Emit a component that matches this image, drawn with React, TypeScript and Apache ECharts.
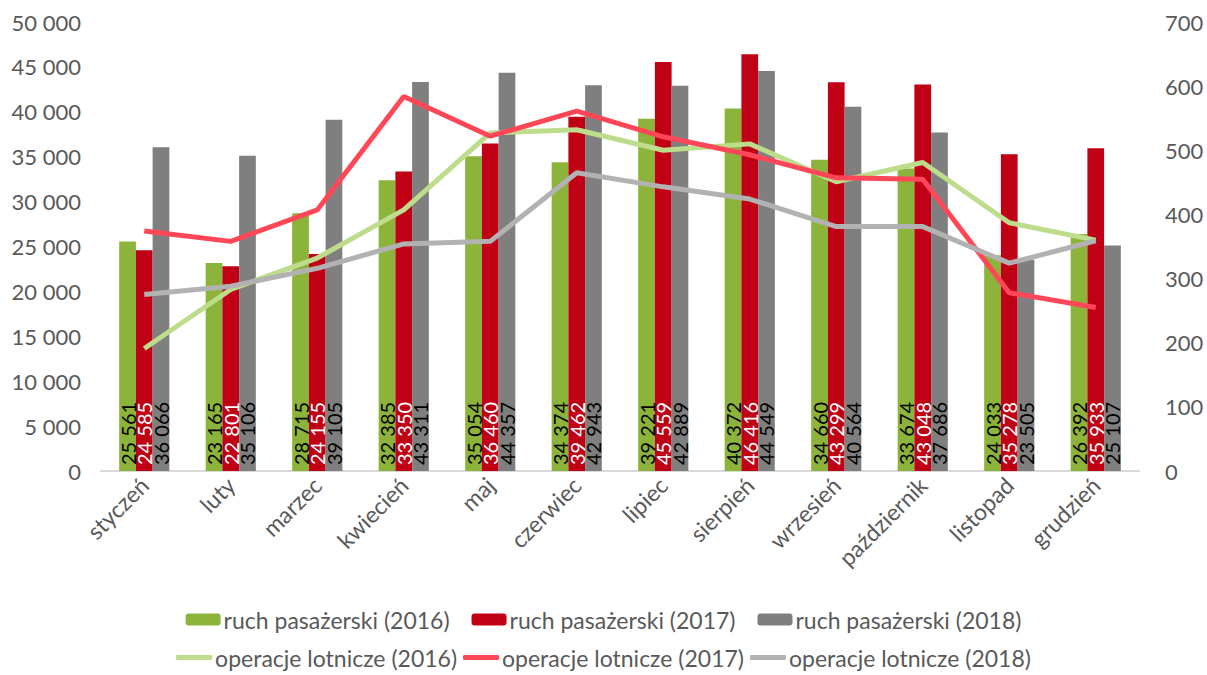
import React, { useEffect, useRef } from "react";
import * as echarts from "echarts";

const months = ["styczeń", "luty", "marzec", "kwiecień", "maj", "czerwiec", "lipiec", "sierpień", "wrzesień", "październik", "listopad", "grudzień"];
const pax2016 = [25561, 23165, 28715, 32385, 35054, 34374, 39221, 40372, 34660, 33674, 24033, 26392];
const pax2017 = [24585, 22801, 24155, 33350, 36460, 39462, 45559, 46416, 43299, 43048, 35278, 35933];
const pax2018 = [36066, 35106, 39105, 43311, 44357, 42943, 42889, 44549, 40564, 37686, 23505, 25107];
const ops2016 = [191, 283, 332, 407, 527, 532, 500, 510, 451, 481, 387, 360];
const ops2017 = [374, 358, 407, 584, 522, 561, 521, 493, 457, 455, 278, 255];
const ops2018 = [275, 288, 316, 354, 358, 465, 443, 424, 381, 381, 324, 359];

const fmt = (v: number) => String(v).replace(/\B(?=(\d{3})+(?!\d))/g, " ");
const FONT = "Lato";

export default function App() {
  const ref = useRef<HTMLDivElement>(null);
  useEffect(() => {
    const chart = echarts.init(ref.current!, undefined, { renderer: "svg" });
    const barLabel = (color: string) => ({
      show: true,
      position: "insideBottom",
      rotate: 90,
      align: "left",
      verticalAlign: "middle",
      distance: 6,
      color,
      fontSize: 20,
      fontFamily: FONT,
      formatter: (p: any) => fmt(p.value),
    });
    const bar = (name: string, data: number[], color: string, lblColor: string) => ({
      name,
      type: "bar",
      data,
      yAxisIndex: 0,
      barGap: "0%",
      barCategoryGap: "42%",
      itemStyle: { color },
      label: barLabel(lblColor),
    });
    const line = (name: string, data: number[], color: string) => ({
      name,
      type: "line",
      data,
      yAxisIndex: 1,
      symbol: "none",
      lineStyle: { color, width: 5 },
      itemStyle: { color },
    });
    chart.setOption({
      animation: false,
      textStyle: { fontFamily: FONT },
      grid: { left: 101, right: 68, top: 22, bottom: 204 },
      legend: [
        {
          data: ["ruch pasażerski (2016)", "ruch pasażerski (2017)", "ruch pasażerski (2018)"],
          top: 603,
          left: "center",
          itemWidth: 35,
          itemHeight: 12,
          itemGap: 22,
          textStyle: { fontSize: 23, color: "#595959", fontFamily: FONT, padding: [0, 0, 0, -2] },
        },
        {
          data: [
            { name: "operacje lotnicze (2016)", icon: "roundRect" },
            { name: "operacje lotnicze (2017)", icon: "roundRect" },
            { name: "operacje lotnicze (2018)", icon: "roundRect" },
          ],
          top: 641,
          left: "center",
          itemWidth: 36,
          itemHeight: 5,
          itemGap: 6,
          textStyle: { fontSize: 23, color: "#595959", fontFamily: FONT, padding: [0, 0, 0, -2] },
        },
      ],
      xAxis: {
        type: "category",
        data: months,
        axisLine: { lineStyle: { color: "#d9d9d9", width: 2 } },
        axisTick: { show: false },
        axisLabel: { rotate: 45, fontSize: 23, color: "#595959", fontFamily: FONT, margin: 10, interval: 0 },
      },
      yAxis: [
        {
          type: "value",
          min: 0,
          max: 50000,
          interval: 5000,
          splitLine: { show: false },
          axisLine: { show: false },
          axisTick: { show: false },
          axisLabel: { fontSize: 22, color: "#595959", fontFamily: FONT, margin: 20, formatter: (v: number) => fmt(v) },
        },
        {
          type: "value",
          min: 0,
          max: 700,
          interval: 100,
          splitLine: { show: false },
          axisLine: { show: false },
          axisTick: { show: false },
          axisLabel: { fontSize: 22, color: "#595959", fontFamily: FONT, margin: 26 },
        },
      ],
      series: [
        bar("ruch pasażerski (2016)", pax2016, "#8cb43a", "#000000"),
        bar("ruch pasażerski (2017)", pax2017, "#c00015", "#ffffff"),
        bar("ruch pasażerski (2018)", pax2018, "#7f7f7f", "#000000"),
        line("operacje lotnicze (2016)", ops2016, "#bddc8c"),
        line("operacje lotnicze (2017)", ops2017, "#ff4757"),
        line("operacje lotnicze (2018)", ops2018, "#b2b2b2"),
      ],
    });
    return () => chart.dispose();
  }, []);
  return <div ref={ref} style={{ width: 1207, height: 675, position: "absolute", left: 0, top: 0 }} />;
}
